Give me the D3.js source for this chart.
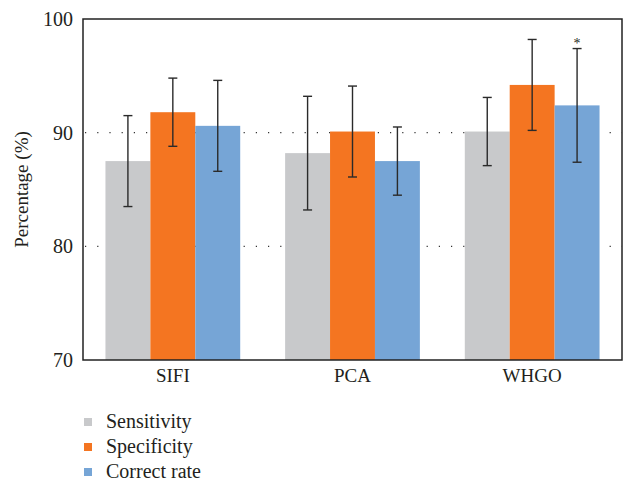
<!DOCTYPE html>
<html>
<head>
<meta charset="utf-8">
<script src="https://cdn.jsdelivr.net/npm/d3@7"></script>
<style>
  body { margin: 0; background: #fff; }
  text { font-family: "Liberation Serif", "DejaVu Serif", serif; fill: #231f20; }
</style>
</head>
<body>
<div id="chart"></div>
<script>
// data
const categories = ["SIFI", "PCA", "WHGO"];
const seriesNames = ["Sensitivity", "Specificity", "Correct rate"];
const sensitivity = [87.5, 88.2, 90.1];
const specificity = [91.8, 90.1, 94.2];
const correctRate = [90.6, 87.5, 92.4];
const sensitivityErr = [4, 5, 3];
const specificityErr = [3, 4, 4];
const correctRateErr = [4, 3, 5];
const yTicks = [70, 80, 90, 100];
const colors = ["#c8c9cb", "#f47521", "#76a5d6"];

const values = [sensitivity, specificity, correctRate];
const errors = [sensitivityErr, specificityErr, correctRateErr];

const W = 626, H = 484;
const margin = {left: 83, right: 4, top: 19, bottom: 124};

const svg = d3.select("#chart").append("svg")
  .attr("width", W).attr("height", H);

const x0 = d3.scaleBand().domain(categories)
  .range([margin.left, W - margin.right]).padding(0);
const x1 = d3.scaleBand().domain(seriesNames)
  .range([0, x0.bandwidth()]).paddingInner(0).paddingOuter(0.5);
const y = d3.scaleLinear().domain([70, 100])
  .range([H - margin.bottom, margin.top]);

// dotted grid lines
svg.append("g").selectAll("line")
  .data(yTicks.filter(d => d > 70 && d < 100)).enter()
  .append("line")
  .attr("x1", margin.left + 2).attr("x2", W - margin.right)
  .attr("y1", d => y(d)).attr("y2", d => y(d))
  .attr("stroke", "#333").attr("stroke-width", 1.2)
  .attr("stroke-dasharray", "1.2 11");

// bars
let rows = [];
categories.forEach((c, i) => {
  seriesNames.forEach((s, j) => {
    rows.push({cat: c, ser: s, j: j, v: values[j][i], e: errors[j][i]});
  });
});

svg.append("g").selectAll("rect").data(rows).enter()
  .append("rect")
  .attr("x", d => x0(d.cat) + x1(d.ser))
  .attr("width", x1.bandwidth())
  .attr("y", d => y(d.v))
  .attr("height", d => y(70) - y(d.v))
  .attr("fill", d => colors[d.j]);

// error bars
let eb = svg.append("g").attr("stroke", "#2a2a2a").attr("stroke-width", 1.4);
rows.forEach(d => {
  let cx = x0(d.cat) + x1(d.ser) + x1.bandwidth() / 2;
  eb.append("line").attr("x1", cx).attr("x2", cx)
    .attr("y1", y(d.v + d.e)).attr("y2", y(d.v - d.e));
  [d.v + d.e, d.v - d.e].forEach(v => {
    eb.append("line").attr("x1", cx - 4.5).attr("x2", cx + 4.5)
      .attr("y1", y(v)).attr("y2", y(v));
  });
});

// asterisk on WHGO correct rate
let star = rows.find(d => d.cat == "WHGO" && d.j == 2);
svg.append("text")
  .attr("x", x0(star.cat) + x1(star.ser) + x1.bandwidth() / 2)
  .attr("y", y(star.v + star.e) - 1)
  .attr("text-anchor", "middle")
  .attr("font-size", 14)
  .text("*");

// frame
svg.append("rect")
  .attr("x", margin.left).attr("y", margin.top)
  .attr("width", W - margin.right - margin.left)
  .attr("height", H - margin.bottom - margin.top)
  .attr("fill", "none").attr("stroke", "#222").attr("stroke-width", 1.5);

// y axis
let yAxis = svg.append("g")
  .attr("transform", `translate(${margin.left},0)`)
  .call(d3.axisLeft(y).tickValues(yTicks).tickSize(0).tickPadding(10));
yAxis.select(".domain").remove();
yAxis.selectAll("text").attr("font-size", 20);

// x axis
let xAxis = svg.append("g")
  .attr("transform", `translate(0,${H - margin.bottom})`)
  .call(d3.axisBottom(x0).tickSize(0).tickPadding(9));
xAxis.select(".domain").remove();
xAxis.selectAll("text").attr("font-size", 19);

// y label
svg.append("text")
  .attr("transform", `translate(28,${(margin.top + H - margin.bottom) / 2}) rotate(-90)`)
  .attr("text-anchor", "middle")
  .attr("font-size", 19)
  .text("Percentage (%)");

// legend
let lg = svg.append("g").attr("transform", "translate(84,422)");
seriesNames.forEach((s, j) => {
  let g = lg.append("g").attr("transform", `translate(0,${j * 25})`);
  g.append("rect").attr("x", 0).attr("y", -4).attr("width", 8).attr("height", 8)
    .attr("fill", colors[j]);
  g.append("text").attr("x", 22).attr("y", 6).attr("font-size", 20).text(s);
});
</script>
</body>
</html>
